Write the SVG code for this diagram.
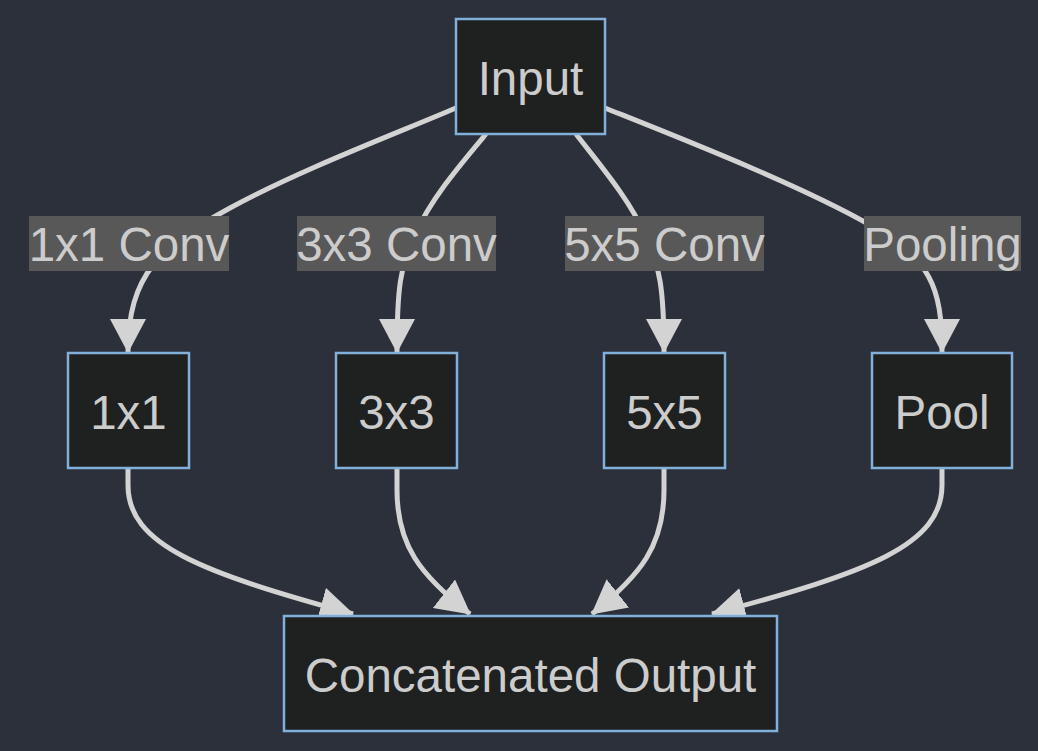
<svg xmlns="http://www.w3.org/2000/svg" width="1038" height="751" viewBox="0 0 1038 751">
<style>
.node rect{fill:#1f2020;stroke:#81b1db;stroke-width:2.5}
.node text,.lbl text{fill:#cccccc;font-family:"Liberation Sans",Arial,sans-serif;font-size:47.5px;text-anchor:middle;dominant-baseline:central}
.lbl rect{fill:#585858}
.edge{fill:none;stroke:#d3d3d3;stroke-width:5;marker-end:url(#arr)}
</style>
<defs>
<marker id="arr" viewBox="0 0 34 36" refX="33" refY="18" markerWidth="34" markerHeight="36" markerUnits="userSpaceOnUse" orient="auto">
<path d="M0,0 L34,18 L0,36 z" fill="#d3d3d3"/>
</marker>
</defs>
<rect width="1038" height="751" fill="#2b303b"/>
<g id="connectors">
<path class="edge" d="M456,108 C390,136 300,170 230,208 C160,246 128,275 128,352"/>
<path class="edge" d="M486,134 C460,165 430,200 415,235 C400,265 397,290 397,352"/>
<path class="edge" d="M576,134 C600,165 630,200 645,235 C660,265 664,290 664,352"/>
<path class="edge" d="M605,108 C680,138 800,185 870,225 C930,260 942,285 942,352"/>
<path class="edge" d="M128,468 V485 C128,545 200,572 353,614"/>
<path class="edge" d="M397,468 V490 C397,545 420,575 470,614"/>
<path class="edge" d="M664,468 V490 C664,545 641,575 592,614"/>
<path class="edge" d="M942,468 V485 C942,545 870,572 712,614"/>
</g>
<g id="label-1x1conv" class="lbl"><rect x="29" y="216" width="200" height="55"/><text x="129" y="244">1x1 Conv</text></g>
<g id="label-3x3conv" class="lbl"><rect x="297" y="216" width="199" height="55"/><text x="396.5" y="244">3x3 Conv</text></g>
<g id="label-5x5conv" class="lbl"><rect x="565" y="216" width="199" height="55"/><text x="664.5" y="244">5x5 Conv</text></g>
<g id="label-pooling" class="lbl"><rect x="864" y="216" width="157" height="55"/><text x="942.5" y="244">Pooling</text></g>
<g id="input" class="node"><rect x="456" y="19" width="149" height="115"/><text x="530.5" y="78">Input</text></g>
<g id="n1x1" class="node"><rect x="68" y="353" width="121" height="115"/><text x="128.5" y="412">1x1</text></g>
<g id="n3x3" class="node"><rect x="336" y="353" width="121" height="115"/><text x="396.5" y="412">3x3</text></g>
<g id="n5x5" class="node"><rect x="604" y="353" width="121" height="115"/><text x="664.5" y="412">5x5</text></g>
<g id="pool" class="node"><rect x="872" y="353" width="140" height="115"/><text x="942" y="412">Pool</text></g>
<g id="output" class="node"><rect x="284" y="616" width="493" height="115"/><text x="530.5" y="675">Concatenated Output</text></g>
</svg>
